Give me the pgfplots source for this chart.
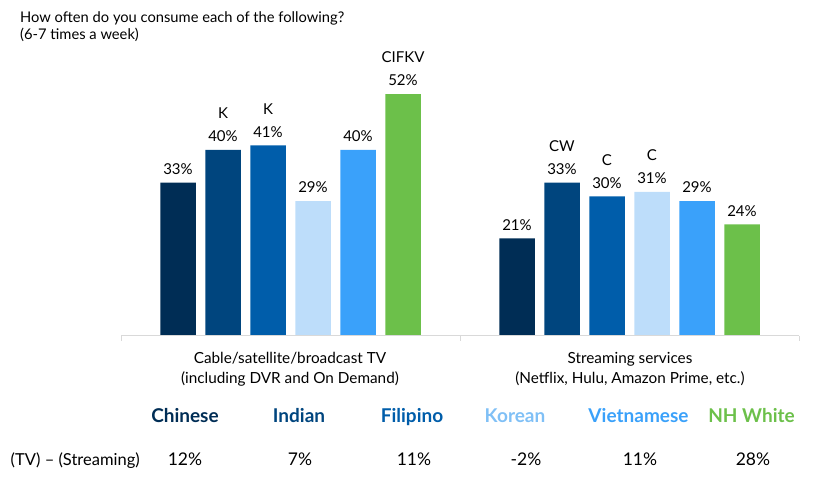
\documentclass[border=0pt]{standalone}
\usepackage{pgfplots}
\pgfplotsset{compat=1.18}
\usepackage{fontspec}
\setmainfont{Lato}

\definecolor{cChi}{HTML}{002D55}
\definecolor{cInd}{HTML}{00457E}
\definecolor{cFil}{HTML}{005DAA}
\definecolor{cKor}{HTML}{BDDDFA}
\definecolor{cKorTxt}{HTML}{80C0F6}
\definecolor{cVie}{HTML}{3AA1FA}
\definecolor{cWhi}{HTML}{6CC04A}
\definecolor{axisgray}{HTML}{D9D9D9}

% bar labels: value, or significance letters over value
\DeclareRobustCommand\pc[1]{#1\%}
\DeclareRobustCommand\lab[2]{#1\\#2\%}

\begin{document}
\begin{tikzpicture}[x=1pt,y=1pt]
\useasboundingbox (0,0) rectangle (820,486);

% 1pt = 1px, y measured up from the bottom of the picture
\begin{axis}[
  at={(121pt,150pt)}, anchor=south west,
  scale only axis, width=678pt, height=279pt,
  xmin=-0.5, xmax=1.5, ymin=0, ymax=60,
  hide axis, clip=false,
  ybar, bar width=35.5pt,
  point meta=explicit symbolic,
  nodes near coords,
  every node near coord/.append style={font=\fontsize{15}{23}\selectfont,
    align=center, anchor=south, inner sep=0pt, yshift=8pt, text=black},
]
\addplot[fill=cChi, draw=none, bar shift=-112.5pt] coordinates {(0,33) [\pc{33}] (1,21) [\pc{21}]};
\addplot[fill=cInd, draw=none, bar shift=-67.5pt]  coordinates {(0,40) [\lab{K}{40}] (1,33) [\lab{CW}{33}]};
\addplot[fill=cFil, draw=none, bar shift=-22.5pt]  coordinates {(0,41) [\lab{K}{41}] (1,30) [\lab{C}{30}]};
\addplot[fill=cKor, draw=none, bar shift=22.5pt]   coordinates {(0,29) [\pc{29}] (1,31) [\lab{C}{31}]};
\addplot[fill=cVie, draw=none, bar shift=67.5pt]   coordinates {(0,40) [\pc{40}] (1,29) [\pc{29}]};
\addplot[fill=cWhi, draw=none, bar shift=112.5pt]  coordinates {(0,52) [\lab{CIFKV}{52}] (1,24) [\pc{24}]};

% category axis line with separators
\draw[axisgray, line width=1pt] (axis cs:-0.5,0) -- (axis cs:1.5,0);
\draw[axisgray, line width=1pt] (axis cs:-0.5,0) -- ++(0pt,-5pt);
\draw[axisgray, line width=1pt] (axis cs:0.5,0) -- ++(0pt,-5pt);
\draw[axisgray, line width=1pt] (axis cs:1.5,0) -- ++(0pt,-5pt);
\end{axis}

% title
\begin{scope}[every node/.style={font=\fontsize{14.7}{17}\selectfont, inner sep=0pt}]
\node[anchor=base west] at (20,463.3) {How often do you consume each of the following?};
\node[anchor=base west] at (20,446.5) {(6-7 times a week)};
\end{scope}
% category labels
\begin{scope}[every node/.style={font=\fontsize{15.3}{17}\selectfont, inner sep=0pt}]
\node[anchor=base] at (290,122.7) {Cable/satellite/broadcast TV};
\node[anchor=base] at (290,102.5) {(including DVR and On Demand)};
\node[anchor=base] at (630,122.7) {Streaming services};
\node[anchor=base] at (630,102.5) {(Netflix, Hulu, Amazon Prime, etc.)};
\end{scope}

% group names
\begin{scope}[every node/.style={font=\fontsize{19}{22}\selectfont\bfseries, inner sep=0pt, anchor=base}]
\node[text=cChi] at (185,63) {Chinese};
\node[text=cInd] at (299,63) {Indian};
\node[text=cFil] at (412,63) {Filipino};
\node[text=cKorTxt] at (515,63) {Korean};
\node[text=cVie] at (638.5,63) {Vietnamese};
\node[text=cWhi] at (751.5,63) {NH White};
\end{scope}

% difference row
\begin{scope}[every node/.style={font=\fontsize{17.5}{20}\selectfont, inner sep=0pt, anchor=base}]
\node[anchor=base west, font=\fontsize{16.5}{19}\selectfont] at (10.5,20) {(TV) – (Streaming)};
\node at (185,20) {12\%};
\node at (300,20) {7\%};
\node at (414,20) {11\%};
\node at (526,20) {-2\%};
\node at (640,20) {11\%};
\node at (753,20) {28\%};
\end{scope}
\end{tikzpicture}
\end{document}
